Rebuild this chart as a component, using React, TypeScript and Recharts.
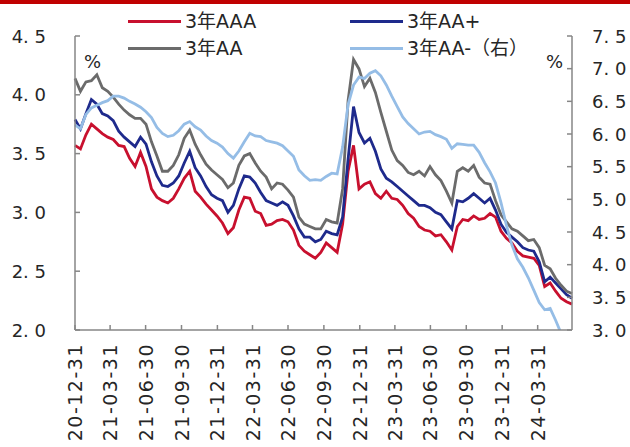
import React from 'react';
import { LineChart, Line, XAxis, YAxis } from 'recharts';

const dates = [
  '2020-12-31','2021-01-14','2021-01-28','2021-02-11','2021-02-25','2021-03-11','2021-03-25','2021-04-08','2021-04-22','2021-05-06',
  '2021-05-20','2021-06-03','2021-06-17','2021-07-01','2021-07-15','2021-07-29','2021-08-12','2021-08-26','2021-09-09','2021-09-23',
  '2021-10-07','2021-10-21','2021-11-04','2021-11-18','2021-12-02','2021-12-16','2021-12-30','2022-01-13','2022-01-27','2022-02-10',
  '2022-02-24','2022-03-10','2022-03-24','2022-04-07','2022-04-21','2022-05-05','2022-05-19','2022-06-02','2022-06-16','2022-06-30',
  '2022-07-14','2022-07-28','2022-08-11','2022-08-25','2022-09-08','2022-09-22','2022-10-06','2022-10-20','2022-11-03','2022-11-17',
  '2022-12-01','2022-12-15','2022-12-29','2023-01-12','2023-01-26','2023-02-09','2023-02-23','2023-03-09','2023-03-23','2023-04-06',
  '2023-04-20','2023-05-04','2023-05-18','2023-06-01','2023-06-15','2023-06-29','2023-07-13','2023-07-27','2023-08-10','2023-08-24',
  '2023-09-07','2023-09-21','2023-10-05','2023-10-19','2023-11-02','2023-11-16','2023-11-30','2023-12-14','2023-12-28','2024-01-11',
  '2024-01-25','2024-02-08','2024-02-22','2024-03-07','2024-03-21','2024-04-04','2024-04-18','2024-05-02','2024-05-16','2024-05-30',
  '2024-06-13','2024-06-27',
];

const aaa = [
  3.57,3.54,3.66,3.75,3.71,3.67,3.64,3.62,3.57,3.56,
  3.46,3.39,3.51,3.39,3.20,3.13,3.10,3.08,3.12,3.20,
  3.29,3.35,3.18,3.13,3.07,3.02,2.97,2.91,2.82,2.87,
  3.02,3.13,3.12,3.01,2.99,2.89,2.90,2.93,2.94,2.92,
  2.85,2.72,2.67,2.64,2.61,2.66,2.74,2.70,2.66,2.90,
  3.35,3.57,3.20,3.24,3.26,3.16,3.12,3.18,3.12,3.11,
  3.06,2.99,2.95,2.88,2.85,2.84,2.80,2.81,2.75,2.68,
  2.88,2.94,2.93,2.97,2.94,2.95,2.99,2.96,2.84,2.78,
  2.74,2.67,2.63,2.62,2.61,2.55,2.37,2.40,2.33,2.27,
  2.24,2.22,
];

const aaPlus = [
  3.79,3.71,3.84,3.96,3.92,3.84,3.82,3.78,3.69,3.64,
  3.60,3.56,3.64,3.58,3.43,3.31,3.23,3.22,3.25,3.31,
  3.42,3.52,3.38,3.31,3.22,3.15,3.12,3.10,3.00,3.06,
  3.20,3.31,3.30,3.25,3.17,3.10,3.08,3.06,3.09,3.06,
  2.97,2.86,2.79,2.79,2.75,2.77,2.84,2.82,2.81,2.96,
  3.45,3.90,3.68,3.59,3.63,3.52,3.37,3.29,3.26,3.22,
  3.18,3.14,3.10,3.06,3.06,3.04,3.00,2.98,2.92,2.86,
  3.10,3.09,3.12,3.16,3.12,3.08,3.12,3.02,2.90,2.83,
  2.79,2.75,2.70,2.68,2.67,2.58,2.41,2.45,2.40,2.35,
  2.30,2.27,
];

const aa = [
  4.14,4.03,4.11,4.12,4.17,4.06,4.03,3.98,3.92,3.87,
  3.83,3.80,3.80,3.75,3.60,3.48,3.35,3.35,3.40,3.49,
  3.63,3.70,3.58,3.49,3.41,3.36,3.32,3.28,3.21,3.25,
  3.40,3.48,3.50,3.42,3.35,3.30,3.20,3.25,3.24,3.19,
  3.13,2.96,2.90,2.88,2.86,2.86,2.94,2.92,2.91,3.20,
  3.95,4.30,4.22,4.07,4.14,4.02,3.85,3.69,3.53,3.44,
  3.40,3.34,3.32,3.35,3.31,3.39,3.32,3.27,3.18,3.08,
  3.35,3.38,3.35,3.40,3.30,3.25,3.24,3.10,2.98,2.92,
  2.86,2.84,2.80,2.76,2.77,2.70,2.55,2.52,2.44,2.38,
  2.33,2.31,
];

const aaMinus = [
  6.14,6.08,6.30,6.40,6.44,6.48,6.51,6.58,6.58,6.55,
  6.50,6.46,6.41,6.34,6.25,6.10,6.01,5.96,5.98,6.05,
  6.15,6.19,6.11,6.06,5.97,5.90,5.86,5.80,5.70,5.63,
  5.74,5.88,6.01,5.97,5.96,5.90,5.88,5.86,5.82,5.74,
  5.66,5.45,5.36,5.29,5.30,5.29,5.35,5.40,5.39,5.80,
  6.45,6.75,6.87,6.85,6.93,6.97,6.89,6.75,6.58,6.42,
  6.26,6.16,6.08,6.00,6.03,6.04,5.99,5.96,5.92,5.78,
  5.85,5.84,5.83,5.83,5.72,5.56,5.42,5.25,4.95,4.60,
  4.30,4.09,3.96,3.80,3.61,3.42,3.31,3.33,3.15,2.95,
  2.85,2.80,
];

const xTickDates = [
  '2020-12-31','2021-03-31','2021-06-30','2021-09-30','2021-12-31','2022-03-31','2022-06-30',
  '2022-09-30','2022-12-31','2023-03-31','2023-06-30','2023-09-30','2023-12-31','2024-03-31',
];
const leftTicks = [2.0, 2.5, 3.0, 3.5, 4.0, 4.5];
const rightTicks = [3.0, 3.5, 4.0, 4.5, 5.0, 5.5, 6.0, 6.5, 7.0, 7.5];
const seriesNames = ['3年AAA', '3年AA+', '3年AA', '3年AA-（右）'];
const seriesColors = ['#C8102E', '#1E2A8C', '#6B6B6B', '#95BDE6'];

const DAY = 86400000;
const T0 = Date.parse(dates[0]);
const toDay = (s: string) => Math.round((Date.parse(s) - T0) / DAY);

const data = dates.map((d, i) => ({
  t: toDay(d),
  aaa: aaa[i],
  aaPlus: aaPlus[i],
  aa: aa[i],
  aaMinus: aaMinus[i],
}));
const xTicks = xTickDates.map(toDay);
const xLabelMap: Record<number, string> = {};
xTickDates.forEach((d) => { xLabelMap[toDay(d)] = d.slice(2); });

const FONT = "'DejaVu Sans', 'Noto Sans CJK SC', sans-serif";
const AXIS = '#868686';
const TEXT = '#262626';

const fmtNum = (v: number) => v.toFixed(1).replace('.', '. ');

const XTick = (props: any) => {
  const { x, y, payload } = props;
  const ly = y + 13;
  return (
    <g>
      <line x1={x} y1={y} x2={x} y2={y - 5} stroke={AXIS} strokeWidth={1.5} />
      <text
        x={x}
        y={ly}
        transform={`rotate(-90 ${x} ${ly})`}
        textAnchor="end"
        dominantBaseline="central"
        fontSize={19}
        letterSpacing={1.5}
        fontFamily={FONT}
        fill={TEXT}
      >
        {xLabelMap[payload.value]}
      </text>
    </g>
  );
};

const LeftTick = (props: any) => {
  const { x, y, payload } = props;
  return (
    <g>
      <line x1={x} y1={y} x2={x + 5} y2={y} stroke={AXIS} strokeWidth={1.5} />
      <text x={x - 29} y={y} textAnchor="end" dominantBaseline="central" fontSize={18} fontFamily={FONT} fill={TEXT}>
        {fmtNum(payload.value)}
      </text>
    </g>
  );
};

const RightTick = (props: any) => {
  const { x, y, payload } = props;
  return (
    <g>
      <line x1={x} y1={y} x2={x - 5} y2={y} stroke={AXIS} strokeWidth={1.5} />
      <text x={x + 20} y={y} textAnchor="start" dominantBaseline="central" fontSize={18} fontFamily={FONT} fill={TEXT}>
        {fmtNum(payload.value)}
      </text>
    </g>
  );
};

const legendPos = [
  { left: 128, top: 21 },
  { left: 350, top: 21 },
  { left: 128, top: 48 },
  { left: 350, top: 48 },
];

export default function App() {
  return (
    <div style={{ position: 'relative', width: 630, height: 447, background: '#fff', fontFamily: FONT }}>
      <style>{'body{margin:0;}'}</style>
      <div style={{ position: 'absolute', left: 0, top: 0, width: 630, height: 4, background: '#C00000' }} />
      <LineChart width={630} height={447} data={data} margin={{ top: 36, right: 0, bottom: 0, left: 0 }}>
        <XAxis
          dataKey="t"
          type="number"
          domain={[0, data[data.length - 1].t]}
          ticks={xTicks}
          interval={0}
          height={117}
          tickSize={0}
          tickMargin={0}
          tickLine={false}
          axisLine={{ stroke: AXIS, strokeWidth: 1.5 }}
          tick={<XTick />}
        />
        <YAxis
          yAxisId="left"
          orientation="left"
          width={75}
          domain={[2, 4.5]}
          ticks={leftTicks}
          interval={0}
          tickSize={0}
          tickMargin={0}
          tickLine={false}
          axisLine={{ stroke: AXIS, strokeWidth: 1.5 }}
          tick={<LeftTick />}
        />
        <YAxis
          yAxisId="right"
          orientation="right"
          width={58}
          domain={[3, 7.5]}
          allowDataOverflow
          ticks={rightTicks}
          interval={0}
          tickSize={0}
          tickMargin={0}
          tickLine={false}
          axisLine={{ stroke: AXIS, strokeWidth: 1.5 }}
          tick={<RightTick />}
        />
        <Line yAxisId="left" dataKey="aaa" name={seriesNames[0]} stroke={seriesColors[0]} strokeWidth={2.8} dot={false} isAnimationActive={false} />
        <Line yAxisId="left" dataKey="aaPlus" name={seriesNames[1]} stroke={seriesColors[1]} strokeWidth={2.8} dot={false} isAnimationActive={false} />
        <Line yAxisId="left" dataKey="aa" name={seriesNames[2]} stroke={seriesColors[2]} strokeWidth={2.8} dot={false} isAnimationActive={false} />
        <Line yAxisId="right" dataKey="aaMinus" name={seriesNames[3]} stroke={seriesColors[3]} strokeWidth={2.8} dot={false} isAnimationActive={false} />
      </LineChart>
      {seriesNames.map((n, i) => (
        <div key={n} style={{ position: 'absolute', left: legendPos[i].left, top: legendPos[i].top - 12, height: 24, display: 'flex', alignItems: 'center', whiteSpace: 'nowrap' }}>
          <div style={{ width: 53, height: 3, background: seriesColors[i], marginRight: 4 }} />
          <span style={{ fontSize: 19, color: TEXT, lineHeight: '24px' }}>{n}</span>
        </div>
      ))}
      <span style={{ position: 'absolute', left: 84, top: 50, fontSize: 18, lineHeight: '24px', color: TEXT }}>%</span>
      <span style={{ position: 'absolute', left: 546, top: 50, fontSize: 18, lineHeight: '24px', color: TEXT }}>%</span>
    </div>
  );
}
